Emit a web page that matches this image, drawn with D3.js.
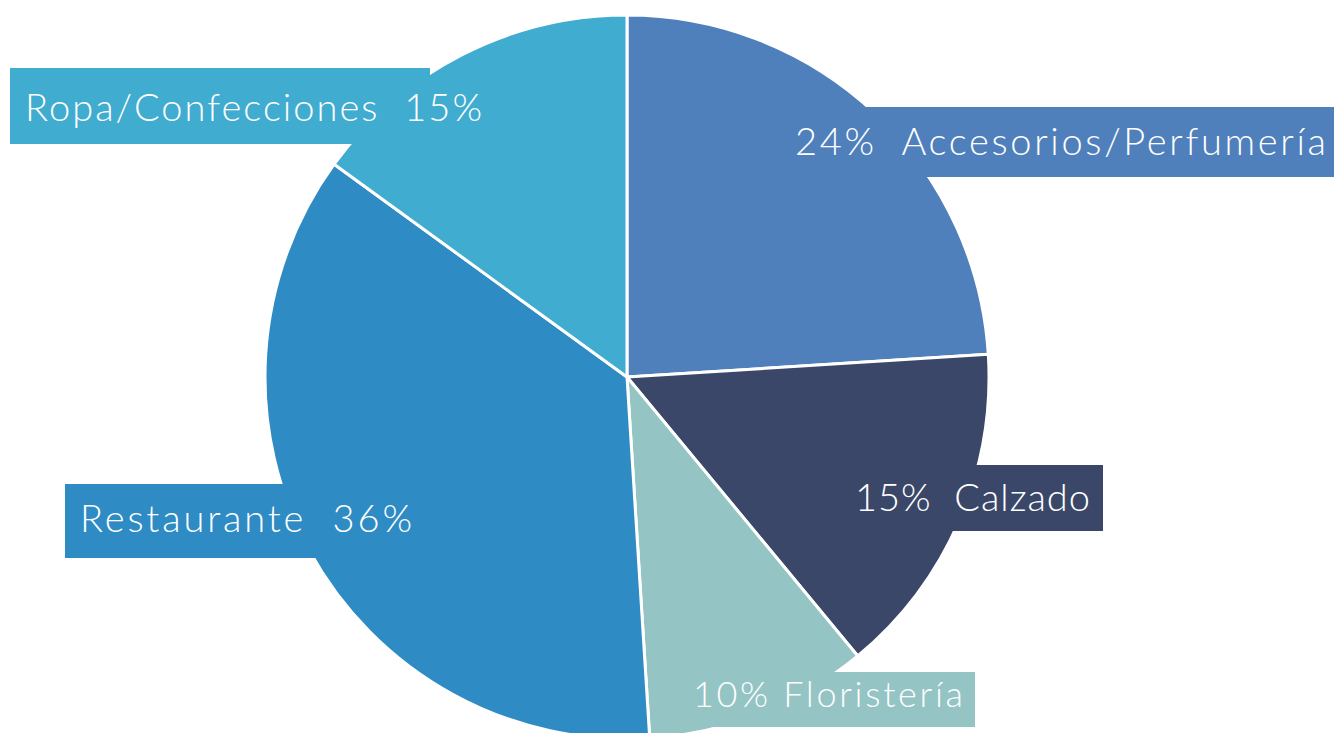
<!DOCTYPE html>
<html>
<head>
<meta charset="utf-8">
<script src="https://cdn.jsdelivr.net/npm/d3@7"></script>
<style>
  body { margin: 0; background: #fff; }
  svg text { font-family: "Lato", "Open Sans", sans-serif; font-weight: 300; white-space: pre; }
</style>
</head>
<body>
<div id="chart"></div>
<script>
// Slice data, clockwise from 12 o'clock
const categories = ["Accesorios/Perfumería", "Calzado", "Floristería", "Restaurante", "Ropa/Confecciones"];
const shares = [24, 15, 10, 36, 15];
const colors = ["#4f80bc", "#3a4769", "#94c4c4", "#2e8bc4", "#40acd0"];

// Label box layout (same order as categories)
const labelLayout = [
    { box: [780, 107, 1334, 177], x: 795, y: 155, w: 531, size: 38, pctFirst: true, gap: "  " },
    { box: [790, 465, 1103, 531], x: 855, y: 511, w: 235, size: 38, pctFirst: true, gap: "  " },
    { box: [668, 672, 975, 727], x: 693, y: 707, w: 270, size: 36, pctFirst: true, gap: " " },
    { box: [65, 484, 430, 558], x: 80, y: 532, w: 332, size: 38, pctFirst: false, gap: "  " },
    { box: [10, 68, 430, 144], x: 25, y: 121, w: 457, size: 38, pctFirst: false, gap: "  " }
];

const width = 1334, height = 733;
const cx = 627, cy = 377, radius = 362;

const svg = d3.select("#chart")
    .append("svg")
    .attr("width", width)
    .attr("height", height);

const pie = d3.pie().sort(null).value(d => d);
const arcs = pie(shares);
const arc = d3.arc().innerRadius(0).outerRadius(radius);

const g = svg.append("g").attr("transform", `translate(${cx},${cy})`);

g.selectAll("path.slice")
    .data(arcs)
    .enter()
    .append("path")
    .attr("class", "slice")
    .attr("d", arc)
    .attr("fill", (d, i) => colors[i])
    .attr("stroke", "#fff")
    .attr("stroke-width", 3)
    .attr("stroke-linejoin", "round");

// Label boxes sit on top of their own slice
svg.selectAll("rect.label-box")
    .data(labelLayout)
    .enter()
    .append("rect")
    .attr("class", "label-box")
    .attr("x", d => d.box[0])
    .attr("y", d => d.box[1])
    .attr("width", d => d.box[2] - d.box[0])
    .attr("height", d => d.box[3] - d.box[1])
    .attr("fill", (d, i) => colors[i]);

svg.selectAll("text.label")
    .data(labelLayout)
    .enter()
    .append("text")
    .attr("class", "label")
    .attr("x", d => d.x)
    .attr("y", d => d.y)
    .attr("font-size", d => d.size)
    .attr("fill", "#fff")
    .attr("textLength", d => d.w)
    .attr("lengthAdjust", "spacing")
    .text((d, i) => {
        const pct = shares[i] + "%";
        return d.pctFirst ? pct + d.gap + categories[i] : categories[i] + d.gap + pct;
    });
</script>
</body>
</html>
